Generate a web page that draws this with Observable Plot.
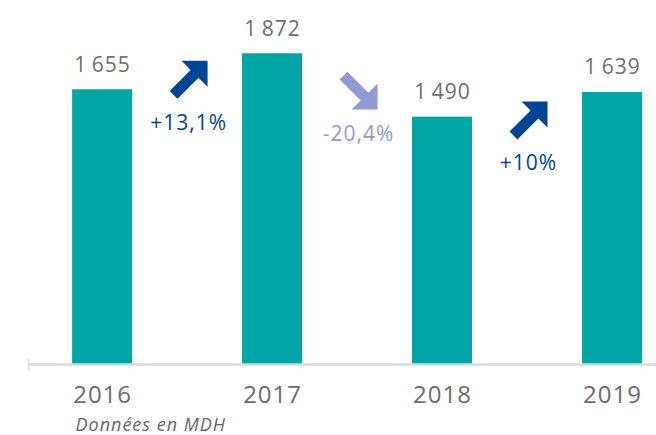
<!DOCTYPE html>
<html><head><meta charset="utf-8">
<script src="https://cdn.jsdelivr.net/npm/d3@7"></script>
<script src="https://cdn.jsdelivr.net/npm/@observablehq/plot@0.6"></script>
<style>body{margin:0;background:#fff;font-family:"Open Sans",sans-serif}</style>
</head><body><div id="chart"></div>
<script>
const years = ["2016", "2017", "2018", "2019"];
const values = [1655, 1872, 1490, 1639];
const changeLabels = ["+13,1%", "-20,4%", "+10%"];
const changeTo = ["2017", "2018", "2019"];
const changeDir = ["up", "down", "up"];
const changeAnchor = [1715, 1650, 1470];
const caption = "Données en MDH";

const data = years.map((y, i) => ({year: y, value: values[i]}));
const changes = changeLabels.map((l, i) => ({label: l, year: changeTo[i], dir: changeDir[i], anchor: changeAnchor[i]}));
const fmt = d3.formatLocale({decimal: ",", thousands: "\u2009", grouping: [3], currency: ["", ""]}).format(",d");

const pts = [[19,-19],[-7,-19],[2.1,-9.9],[-18.9,11.1],[-11.1,18.9],[9.9,-2.1],[19,7]];
function arrowSymbol(flip) {
  return {draw(ctx) {
    pts.forEach(([x, y], i) => i ? ctx.lineTo(x, flip * y) : ctx.moveTo(x, flip * y));
    ctx.closePath();
  }};
}
const upArrow = arrowSymbol(1), downArrow = arrowSymbol(-1);
const dark = "#004494", light = "#8f9bd2";

const plot = Plot.plot({
  width: 656, height: 435,
  marginTop: 32, marginBottom: 71, marginLeft: 28, marginRight: 0,
  style: {fontFamily: "'Open Sans', sans-serif", background: "white", overflow: "visible", letterSpacing: "1px"},
  x: {domain: years, paddingInner: 0.647, paddingOuter: 0.171, align: 0.759, round: false, axis: null},
  y: {domain: [0, 2000], axis: null},
  marks: [
    Plot.barY(data, {x: "year", y: "value", fill: "#00a6a6"}),
    Plot.ruleY([0], {stroke: "#dadada", strokeWidth: 2.5}),
    Plot.text(data, {x: "year", y: "value", text: d => fmt(d.value), dy: -18, lineAnchor: "bottom", fontSize: 21, fill: "#6e6e6e"}),
    Plot.text(data, {x: "year", text: "year", frameAnchor: "bottom", dy: 38, lineAnchor: "bottom", fontSize: 24, fill: "#6b6b6b"}),
    Plot.dot(changes.filter(d => d.dir === "up"), {x: "year", y: "anchor", dx: -84, symbol: upArrow, r: 10, fill: dark}),
    Plot.dot(changes.filter(d => d.dir === "down"), {x: "year", y: "anchor", dx: -84, symbol: downArrow, r: 10, fill: light}),
    Plot.text(changes.filter(d => d.dir === "up"), {x: "year", y: "anchor", text: "label", dx: -84, dy: 50, lineAnchor: "bottom", fontSize: 21, fill: dark}),
    Plot.text(changes.filter(d => d.dir === "down"), {x: "year", y: "anchor", text: "label", dx: -84, dy: 50, lineAnchor: "bottom", fontSize: 21, fill: light}),
    Plot.text([caption], {frameAnchor: "bottom-left", dx: 47, dy: 66, lineAnchor: "bottom", textAnchor: "start", fontStyle: "italic", fontSize: 18, fill: "#666", ariaLabel: "caption"})
  ]
});
d3.select(plot).select("g[aria-label=caption]").style("letter-spacing", "-0.3px");
const y0 = plot.scale("y").apply(0);
d3.select(plot).append("line").attr("x1", 28.5).attr("x2", 28.5).attr("y1", y0 - 5).attr("y2", y0 + 7).attr("stroke", "#dadada").attr("stroke-width", 1.5);
document.getElementById("chart").append(plot);
</script></body></html>
